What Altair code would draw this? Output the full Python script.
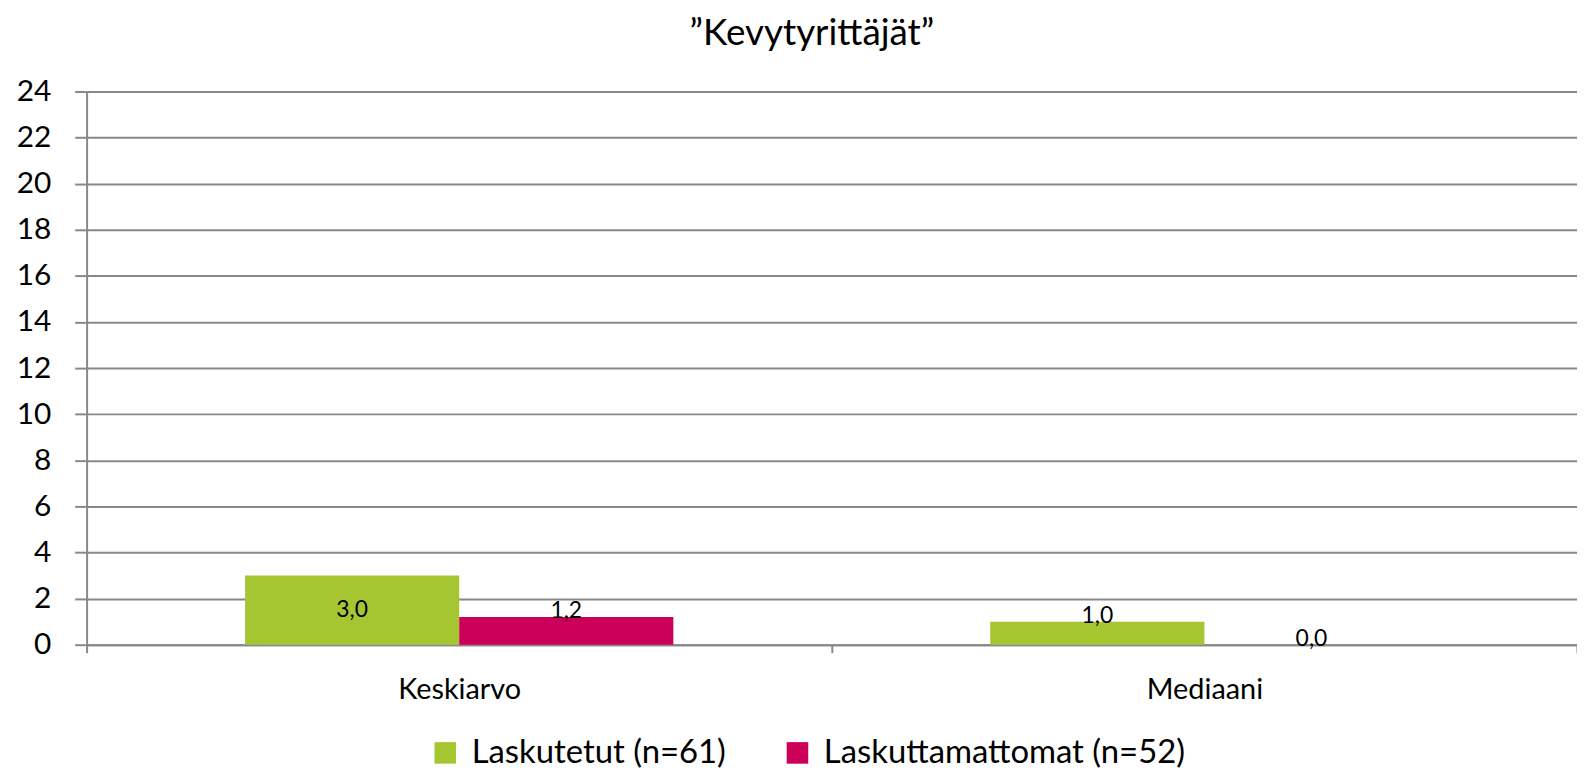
import altair as alt
import pandas as pd

categories = ["Keskiarvo", "Mediaani"]
series = ["Laskutetut (n=61)", "Laskuttamattomat (n=52)"]
laskutetut = [3.0, 1.0]
laskuttamattomat = [1.2, 0.0]
y_ticks = list(range(0, 25, 2))
colors = ["#A6C631", "#CC0058"]
title_text = "\u201dKevytyrittäjät\u201d"

rows = []
for i, c in enumerate(categories):
    rows.append({"cat": c, "series": series[0], "value": laskutetut[i]})
    rows.append({"cat": c, "series": series[1], "value": laskuttamattomat[i]})
df = pd.DataFrame(rows)

FONT = "Lato"
GRID = "#888888"

x_axis = alt.Axis(
    title=None, labelAngle=0, tickBand="extent", domainColor=GRID, domainWidth=2,
    tickColor=GRID, tickWidth=2, tickSize=8, labelFont=FONT, labelFontSize=29,
    labelColor="black", labelPadding=23, grid=False,
)
y_axis = alt.Axis(
    values=y_ticks, title=None, domainColor=GRID, domainWidth=2, tickColor=GRID,
    tickWidth=2, tickSize=12, labelFont=FONT, labelFontSize=30, labelColor="black",
    labelPadding=24, grid=True, gridColor=GRID, gridWidth=2,
)
x_scale = alt.Scale(paddingInner=0, paddingOuter=0)
xo_scale = alt.Scale(paddingOuter=0.74, paddingInner=0)
y_scale = alt.Scale(domain=[0, 24], nice=False, zero=True)

color_enc = alt.Color(
    "series:N",
    sort=series,
    scale=alt.Scale(domain=series, range=colors),
    legend=alt.Legend(
        orient="none", legendX=344, legendY=648, direction="horizontal", title=None,
        symbolType="square", symbolSize=470, symbolStrokeWidth=0, symbolOpacity=1,
        labelFont=FONT, labelFontSize=33, labelOffset=10, columnPadding=55,
        labelColor="black", labelLimit=600,
    ),
)

bars = alt.Chart(df).mark_bar(strokeWidth=0).encode(
    x=alt.X("cat:N", sort=categories, scale=x_scale, axis=x_axis),
    xOffset=alt.XOffset("series:N", sort=series, scale=xo_scale),
    y=alt.Y("value:Q", scale=y_scale, axis=y_axis),
    color=color_enc,
)

base_text = alt.Chart(df).transform_calculate(
    label="replace(format(datum.value, '.1f'), '.', ',')",
    lab_y="datum.value >= 2 ? datum.value / 2 : datum.value",
)

def text_layer(filter_expr, dy):
    return base_text.transform_filter(filter_expr).mark_text(
        font=FONT, fontSize=23, color="black", baseline="middle", dy=dy
    ).encode(
        x=alt.X("cat:N", sort=categories, scale=x_scale, axis=x_axis),
        xOffset=alt.XOffset("series:N", sort=series, scale=xo_scale),
        y=alt.Y("lab_y:Q", scale=y_scale, axis=y_axis),
        text="label:N",
    )

inside = text_layer("datum.value >= 2", 0)
above = text_layer("datum.value < 2", -6)

chart = alt.layer(bars, inside, above).properties(
    width=1498,
    height=556,
    padding={"left": 79, "top": 82, "right": 0, "bottom": 126},
    autosize=alt.AutoSizeParams(type="none"),
    background="white",
    title=alt.TitleParams(
        text=title_text, font=FONT, fontSize=37, fontWeight="normal", color="black",
        anchor="middle", frame="group", offset=6, baseline="alphabetic", dx=-20, dy=11.5,
    ),
).configure_view(stroke=None)

chart.save("out.html", embed_options={"renderer": "svg", "actions": False})
